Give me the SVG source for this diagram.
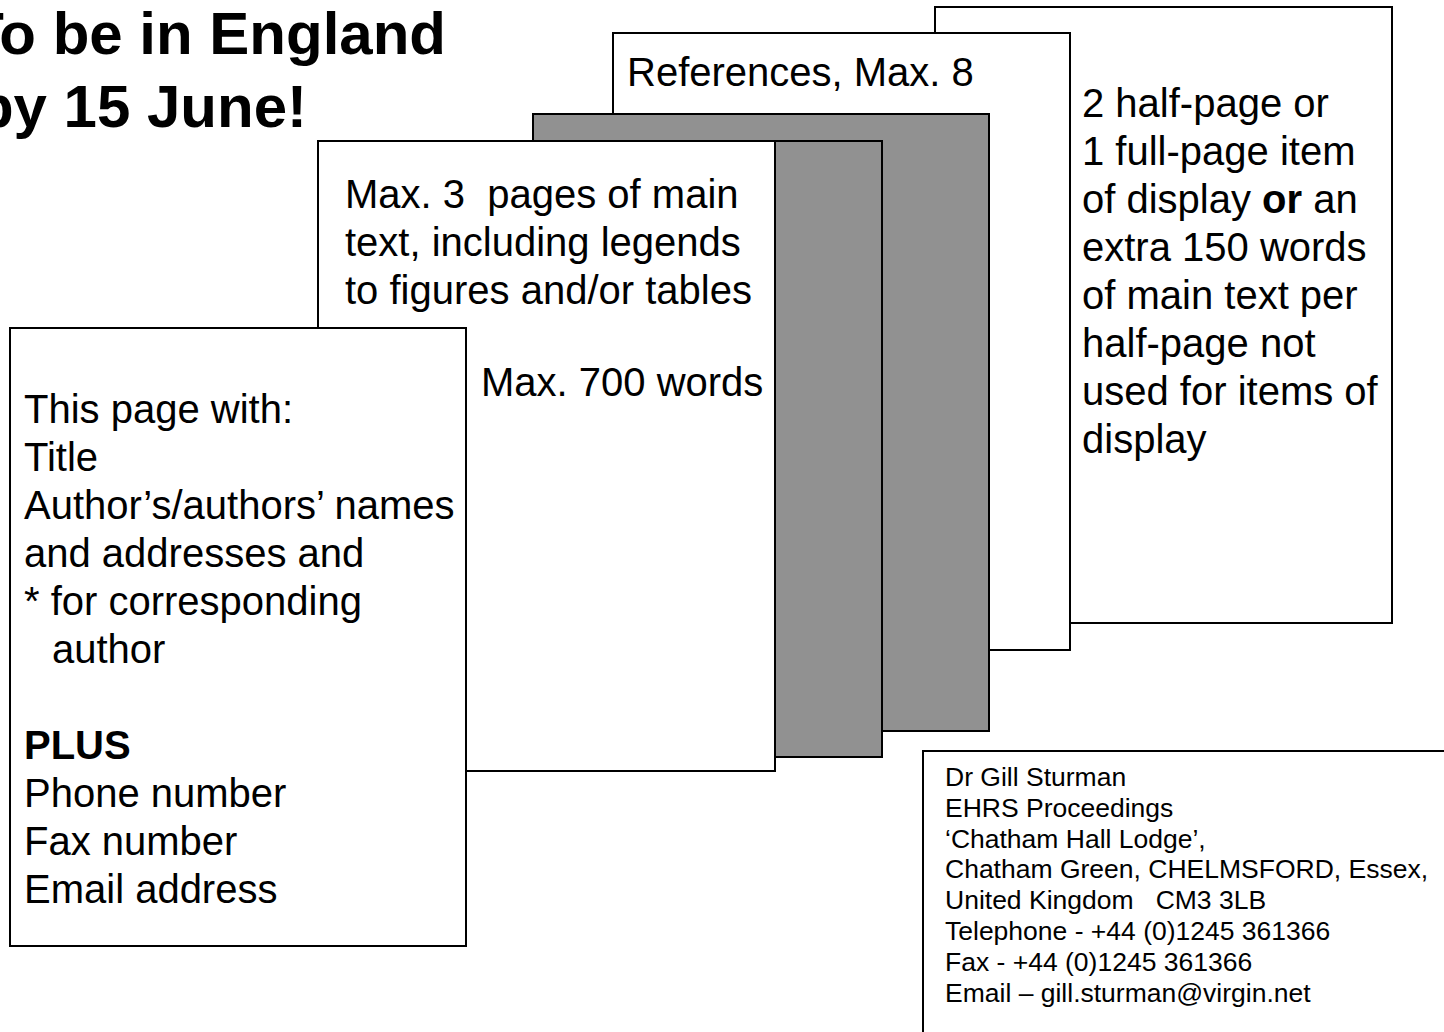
<svg xmlns="http://www.w3.org/2000/svg" width="1444" height="1032" viewBox="0 0 1444 1032">
<style>
.pg{fill:#ffffff;stroke:#000000;stroke-width:2}
.gr{fill:#919191;stroke:#000000;stroke-width:2}
.t{font-family:"Liberation Sans",Arial,sans-serif;font-size:40px;fill:#000000}
.c{font-family:"Liberation Sans",Arial,sans-serif;font-size:26.5px;fill:#000000}
.h{font-family:"Liberation Sans",Arial,sans-serif;font-size:60px;font-weight:bold;fill:#000000}
.b{font-weight:bold}
</style>
<rect width="1444" height="1032" fill="#ffffff"/>
<g id="title">
<text class="h" x="446" y="54" text-anchor="end">To be in England</text>
<text class="h" x="307" y="127" text-anchor="end">by 15 June!</text>
</g>
<g id="display-page">
<rect class="pg" x="935" y="7" width="457" height="616"/>
<text class="t" x="1082">
<tspan x="1082" y="117">2 half-page or</tspan>
<tspan x="1082" y="165">1 full-page item</tspan>
<tspan x="1082" y="213">of display <tspan class="b">or</tspan> an</tspan>
<tspan x="1082" y="261">extra 150 words</tspan>
<tspan x="1082" y="309">of main text per</tspan>
<tspan x="1082" y="357">half-page not</tspan>
<tspan x="1082" y="405">used for items of</tspan>
<tspan x="1082" y="453">display</tspan>
</text>
</g>
<g id="references-page">
<rect class="pg" x="613" y="33" width="457" height="617"/>
<text class="t" x="627" y="86">References, Max. 8</text>
</g>
<g id="grey-page-1">
<rect class="gr" x="533" y="114" width="456" height="617"/>
</g>
<g id="grey-page-2">
<rect class="gr" x="426" y="141" width="456" height="616"/>
</g>
<g id="main-text-page">
<rect class="pg" x="318" y="141" width="457" height="630"/>
<text class="t" xml:space="preserve"><tspan x="345" y="208">Max. 3  pages of main</tspan><tspan x="345" y="256">text, including legends</tspan><tspan x="345" y="304">to figures and/or tables</tspan><tspan x="481" y="396">Max. 700 words</tspan></text>
</g>
<g id="first-page">
<rect class="pg" x="10" y="328" width="456" height="618"/>
<text class="t">
<tspan x="24" y="423">This page with:</tspan>
<tspan x="24" y="471">Title</tspan>
<tspan x="24" y="519">Author’s/authors’ names</tspan>
<tspan x="24" y="567">and addresses and</tspan>
<tspan x="24" y="615">* for corresponding</tspan>
<tspan x="52" y="663">author</tspan>
<tspan x="24" y="759" class="b">PLUS</tspan>
<tspan x="24" y="807">Phone number</tspan>
<tspan x="24" y="855">Fax number</tspan>
<tspan x="24" y="903">Email address</tspan>
</text>
</g>
<g id="contact-box">
<rect class="pg" x="923" y="751" width="600" height="400"/>
<text class="c" xml:space="preserve"><tspan x="945" y="786">Dr Gill Sturman</tspan><tspan x="945" y="816.8">EHRS Proceedings</tspan><tspan x="945" y="847.6">‘Chatham Hall Lodge’,</tspan><tspan x="945" y="878.4">Chatham Green, CHELMSFORD, Essex,</tspan><tspan x="945" y="909.2">United Kingdom   CM3 3LB</tspan><tspan x="945" y="940">Telephone - +44 (0)1245 361366</tspan><tspan x="945" y="970.8">Fax - +44 (0)1245 361366</tspan><tspan x="945" y="1001.6">Email – gill.sturman@virgin.net</tspan></text>
</g>
<g id="connectors"></g>
</svg>
